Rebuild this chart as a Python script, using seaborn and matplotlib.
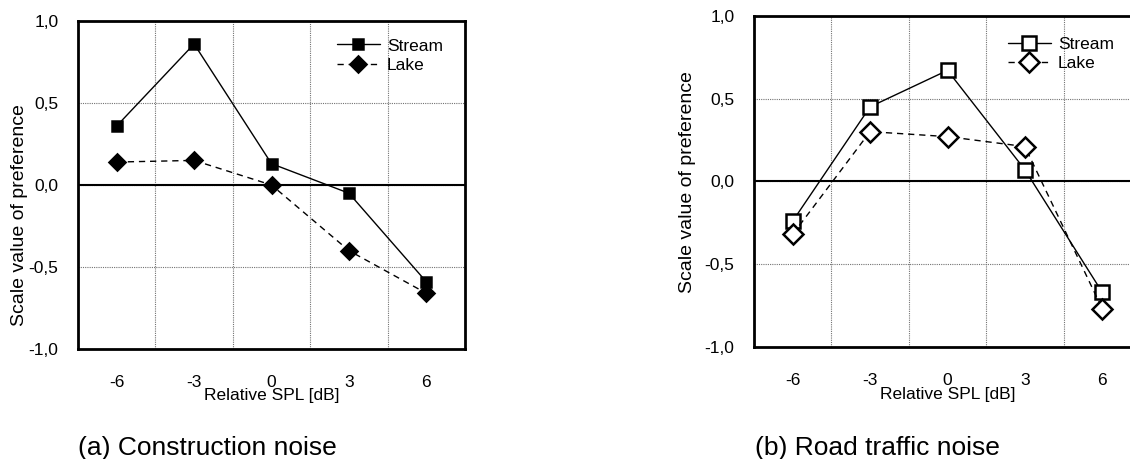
import numpy as np
import pandas as pd
import matplotlib
matplotlib.use('Agg')
import matplotlib.pyplot as plt
import seaborn as sns
from matplotlib.ticker import FixedLocator

# values
spl = [-6, -3, 0, 3, 6]
construction_stream = [0.36, 0.86, 0.13, -0.05, -0.59]
construction_lake = [0.14, 0.15, 0.00, -0.40, -0.66]
road_stream = [-0.24, 0.45, 0.67, 0.07, -0.67]
road_lake = [-0.32, 0.30, 0.27, 0.21, -0.77]

sources = ['Stream', 'Lake']
xtick_labels = ['-6', '-3', '0', '3', '6']
ytick_vals = [-1.0, -0.5, 0.0, 0.5, 1.0]
ytick_labels = ['-1,0', '-0,5', '0,0', '0,5', '1,0']
captions = ['(a) Construction noise', '(b) Road traffic noise']

sns.set_style('white')
plt.rcParams['font.family'] = ['Liberation Sans', 'DejaVu Sans']
for key in ['text.color', 'axes.labelcolor', 'xtick.color', 'ytick.color']:
    plt.rcParams[key] = 'black'


def long_df(stream, lake):
    return pd.DataFrame({
        'spl': spl * 2,
        'value': stream + lake,
        'source': ['Stream'] * len(spl) + ['Lake'] * len(spl),
    })


def draw_panel(ax, df, facecolor, sq_size, dia_size, lab_xy):
    sns.lineplot(data=df, x='spl', y='value', style='source', style_order=sources,
                 markers={'Stream': 's', 'Lake': 'D'},
                 dashes={'Stream': '', 'Lake': (4.5, 3.5)},
                 color='black', lw=1.0, markeredgecolor='black',
                 markerfacecolor=facecolor, mew=1.8, legend=False, ax=ax)
    lines = ax.get_lines()[:2]
    lines[0].set_markersize(sq_size)
    lines[1].set_markersize(dia_size)

    ax.axhline(0, color='black', lw=1.5, zorder=1)
    ax.set_xlim(-7.5, 7.5)
    ax.set_ylim(-1, 1)
    ax.set_xticks(spl)
    ax.set_xticklabels(xtick_labels)
    ax.xaxis.set_minor_locator(FixedLocator([-4.5, -1.5, 1.5, 4.5]))
    ax.set_yticks(ytick_vals)
    ax.set_yticklabels(ytick_labels)
    ax.tick_params(axis='x', which='both', length=0, pad=19, labelsize=12.5)
    ax.tick_params(axis='y', direction='in', length=4, width=1.5, pad=14, labelsize=12.5)
    ax.grid(False)
    ax.grid(True, axis='x', which='minor', color='0.45', lw=0.8, ls=(0, (1, 1)))
    ax.grid(True, axis='y', which='major', color='0.45', lw=0.8, ls=(0, (1, 1)))
    for sp in ax.spines.values():
        sp.set_visible(True)
        sp.set_color('black')
        sp.set_linewidth(2)

    ax.set_xlabel('Relative SPL [dB]', fontsize=12.5)
    ax.xaxis.label.set_va('center')
    ax.xaxis.set_label_coords(0.5, -0.143)
    ax.set_ylabel('Scale value of preference', fontsize=14)
    ax.yaxis.label.set_va('center')
    ax.yaxis.set_label_coords(*lab_xy)


fig = plt.figure(figsize=(11.3, 4.59), dpi=100)
ax1 = fig.add_axes([78 / 1130, (459 - 349) / 459, 387 / 1130, 328 / 459])
ax2 = fig.add_axes([754 / 1130, (459 - 347) / 459, 387 / 1130, 331.3 / 459])

draw_panel(ax1, long_df(construction_stream, construction_lake), 'black', 7.5, 8, (-0.15, 0.409))
draw_panel(ax2, long_df(road_stream, road_lake), 'white', 9.5, 10, (-0.171, 0.498))

for ax, anchor in [(ax1, (0.669, 0.947)), (ax2, (0.656, 0.937))]:
    ax.legend(handles=ax.get_lines()[:2], labels=sources, loc='upper left',
              bbox_to_anchor=anchor, frameon=False, fontsize=12.5,
              borderpad=0, borderaxespad=0, handlelength=2.47,
              handletextpad=0.4, labelspacing=0.24)

fig.text(78 / 1130, 4 / 459, captions[0], fontsize=19, va='baseline', ha='left')
fig.text(755 / 1130, 4 / 459, captions[1], fontsize=19, va='baseline', ha='left')

fig.savefig('out.png', dpi=100)
